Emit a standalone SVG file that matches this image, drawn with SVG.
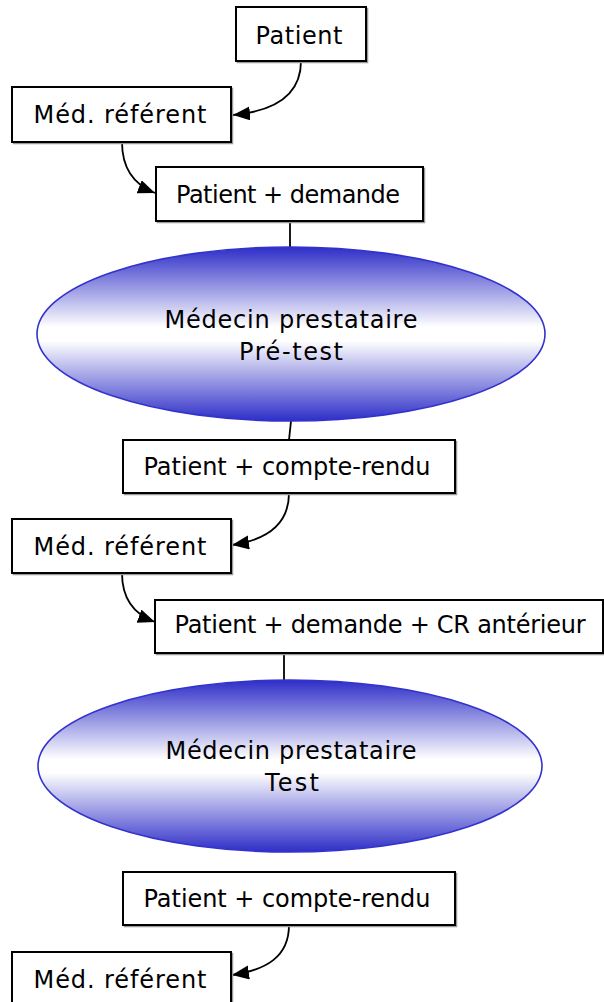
<svg xmlns="http://www.w3.org/2000/svg" width="604" height="1002" viewBox="0 0 604 1002">
<style>
.box{fill:#fff;stroke:#000;stroke-width:2}
.sh{fill:none;stroke:#999;stroke-width:1.5}
.ell{fill:url(#grad);stroke:#3333cc;stroke-width:1.6}
.t{font-family:"DejaVu Sans",sans-serif;font-size:24px;fill:#000;text-anchor:middle}
.c{fill:none;stroke:#000;stroke-width:1.8}
</style>
<defs>
<linearGradient id="grad" x1="0" y1="0" x2="0" y2="1">
<stop offset="0" stop-color="#2e2ec8"/>
<stop offset="0.46" stop-color="#ffffff"/>
<stop offset="0.54" stop-color="#ffffff"/>
<stop offset="1" stop-color="#2e2ec8"/>
</linearGradient>
<marker id="arr" markerUnits="userSpaceOnUse" markerWidth="19" markerHeight="15" refX="17" refY="7" orient="auto">
<path d="M0,0 L17,7 L0,14 z" fill="#000"/>
</marker>
</defs>

<g id="connectors">
<path class="c" d="M301,61 C301,94 276,111 233,115" marker-end="url(#arr)"/>
<path class="c" d="M122,142 C122,166 132,184 155,193" marker-end="url(#arr)"/>
<line class="c" x1="290" y1="221" x2="290" y2="247"/>
<line class="c" x1="291" y1="421" x2="289" y2="440"/>
<path class="c" d="M289,493 C289,525 266,540 232,545" marker-end="url(#arr)"/>
<path class="c" d="M122,573 C122,598 133,614 155,622" marker-end="url(#arr)"/>
<line class="c" x1="284" y1="652" x2="284" y2="680"/>
<path class="c" d="M289,925 C289,957 266,970 232,975" marker-end="url(#arr)"/>
</g>

<g id="n-patient">
<rect class="sh" x="237.5" y="8.5" width="130" height="54"/>
<rect class="box" x="236" y="7" width="130" height="54"/>
<text class="t" x="299" y="44" textLength="87">Patient</text>
</g>

<g id="n-medref1">
<rect class="sh" x="13.5" y="88.5" width="219" height="55"/>
<rect class="box" x="12" y="87" width="219" height="55"/>
<text class="t" x="120" y="123" textLength="173">Méd. référent</text>
</g>

<g id="n-demande">
<rect class="sh" x="157.5" y="168.5" width="267" height="54"/>
<rect class="box" x="156" y="167" width="267" height="54"/>
<text class="t" x="288" y="203" textLength="224">Patient + demande</text>
</g>

<g id="n-pretest">
<ellipse class="ell" cx="291" cy="334" rx="254" ry="87"/>
<text class="t" x="291" y="328" textLength="253">Médecin prestataire</text>
<text class="t" x="291" y="360" textLength="104">Pré-test</text>
</g>

<g id="n-cr1">
<rect class="sh" x="124.5" y="441.5" width="332" height="53"/>
<rect class="box" x="123" y="440" width="332" height="53"/>
<text class="t" x="287" y="475" textLength="287">Patient + compte-rendu</text>
</g>

<g id="n-medref2">
<rect class="sh" x="13.5" y="520.5" width="219" height="54"/>
<rect class="box" x="12" y="519" width="219" height="54"/>
<text class="t" x="120" y="555" textLength="173">Méd. référent</text>
</g>

<g id="n-demande2">
<rect class="sh" x="156.5" y="601.5" width="448" height="53"/>
<rect class="box" x="155" y="600" width="448" height="53"/>
<text class="t" x="380" y="633" textLength="411">Patient + demande + CR antérieur</text>
</g>

<g id="n-test">
<ellipse class="ell" cx="290" cy="766" rx="252" ry="86"/>
<text class="t" x="291" y="759" textLength="251">Médecin prestataire</text>
<text class="t" x="292" y="791" textLength="54">Test</text>
</g>

<g id="n-cr2">
<rect class="sh" x="124.5" y="873.5" width="332" height="53"/>
<rect class="box" x="123" y="872" width="332" height="53"/>
<text class="t" x="287" y="907" textLength="287">Patient + compte-rendu</text>
</g>

<g id="n-medref3">
<rect class="sh" x="13.5" y="953.5" width="219" height="54"/>
<rect class="box" x="12" y="952" width="219" height="54"/>
<text class="t" x="120" y="988" textLength="173">Méd. référent</text>
</g>
</svg>
